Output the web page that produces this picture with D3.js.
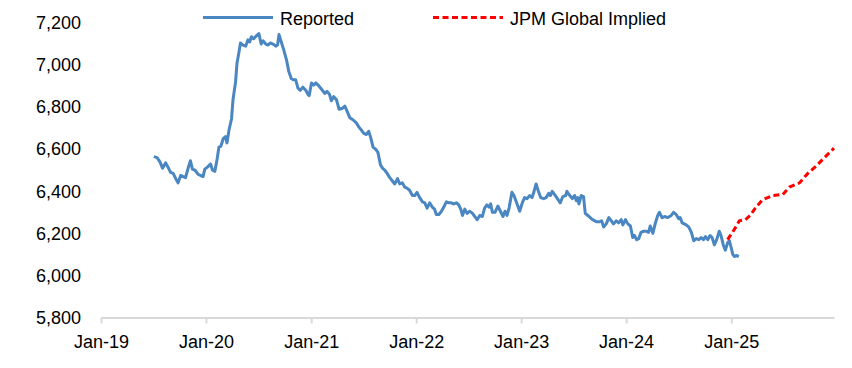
<!DOCTYPE html>
<html>
<head>
<meta charset="utf-8">
<script src="https://cdn.jsdelivr.net/npm/d3@7"></script>
<style>
  body { margin: 0; background: #fff; }
  #chart { width: 852px; height: 368px; }
  text { font-family: Arial, "Liberation Sans", sans-serif; fill: #000; }
</style>
</head>
<body>
<div id="chart"></div>
<script>
// reported series (weekly-ish)
var reportedDates = [
  "2019-07-04","2019-07-15","2019-07-25","2019-08-03","2019-08-14","2019-08-22","2019-08-31","2019-09-09",
  "2019-09-18","2019-09-26","2019-10-05","2019-10-14","2019-10-22","2019-10-31","2019-11-08","2019-11-15",
  "2019-11-24","2019-12-05","2019-12-13","2019-12-22","2019-12-28","2020-01-06","2020-01-17","2020-01-24",
  "2020-02-01","2020-02-09","2020-02-15","2020-02-22","2020-03-01","2020-03-09","2020-03-14","2020-03-21",
  "2020-03-30","2020-04-04","2020-04-13","2020-04-18","2020-04-24","2020-04-30","2020-05-09","2020-05-18",
  "2020-05-26","2020-06-01","2020-06-07","2020-06-15","2020-06-25","2020-07-03","2020-07-11","2020-07-18",
  "2020-07-27","2020-08-03","2020-08-12","2020-08-21","2020-08-31","2020-09-06","2020-09-11","2020-09-20",
  "2020-09-28","2020-10-07","2020-10-15","2020-10-24","2020-11-01","2020-11-08","2020-11-16","2020-11-24",
  "2020-12-03","2020-12-13","2020-12-21","2020-12-25","2021-01-02","2021-01-10","2021-01-17","2021-01-25",
  "2021-02-06","2021-02-17","2021-02-25","2021-03-06","2021-03-12","2021-03-20","2021-03-30","2021-04-08",
  "2021-04-20","2021-04-28","2021-05-06","2021-05-15","2021-05-26","2021-06-07","2021-06-16","2021-06-25",
  "2021-07-03","2021-07-12","2021-07-20","2021-07-27","2021-08-04","2021-08-13","2021-08-21","2021-08-30",
  "2021-09-06","2021-09-14","2021-09-22","2021-10-01","2021-10-10","2021-10-18","2021-10-28","2021-11-05",
  "2021-11-14","2021-11-22","2021-11-30","2021-12-09","2021-12-19","2021-12-27","2022-01-04","2022-01-13",
  "2022-01-23","2022-01-31","2022-02-08","2022-02-17","2022-02-26","2022-03-06","2022-03-12","2022-03-21",
  "2022-03-30","2022-04-07","2022-04-16","2022-04-25","2022-05-03","2022-05-11","2022-05-21","2022-05-29",
  "2022-06-05","2022-06-11","2022-06-19","2022-06-27","2022-07-06","2022-07-16","2022-07-24","2022-08-01",
  "2022-08-10","2022-08-19","2022-08-27","2022-09-04","2022-09-11","2022-09-17","2022-09-23","2022-10-02",
  "2022-10-12","2022-10-21","2022-10-30","2022-11-06","2022-11-13","2022-11-20","2022-11-30","2022-12-07",
  "2022-12-15","2022-12-27","2023-01-05","2023-01-13","2023-01-21","2023-01-31","2023-02-08","2023-02-14",
  "2023-02-22","2023-03-02","2023-03-10","2023-03-20","2023-03-29","2023-04-07","2023-04-13","2023-04-19",
  "2023-04-27","2023-05-07","2023-05-17","2023-05-26","2023-06-05","2023-06-09","2023-06-19","2023-06-28",
  "2023-07-06","2023-07-12","2023-07-17","2023-07-21","2023-07-29","2023-08-06","2023-08-12","2023-08-21",
  "2023-09-02","2023-09-13","2023-09-21","2023-10-01","2023-10-08","2023-10-15","2023-10-24","2023-11-02",
  "2023-11-10","2023-11-18","2023-11-28","2023-12-06","2023-12-15","2023-12-21","2023-12-30","2024-01-07",
  "2024-01-16","2024-01-24","2024-01-30","2024-02-07","2024-02-14","2024-02-22","2024-03-02","2024-03-11",
  "2024-03-19","2024-03-25","2024-04-03","2024-04-12","2024-04-20","2024-04-26","2024-05-05","2024-05-14",
  "2024-05-25","2024-06-06","2024-06-14","2024-06-23","2024-07-02","2024-07-07","2024-07-14","2024-07-28",
  "2024-08-06","2024-08-15","2024-08-23","2024-09-01","2024-09-10","2024-09-18","2024-09-26","2024-10-03",
  "2024-10-11","2024-10-19","2024-10-26","2024-11-03","2024-11-11","2024-11-20","2024-11-26","2024-12-04",
  "2024-12-11","2024-12-19","2024-12-25","2024-12-31","2025-01-06","2025-01-12","2025-01-18","2025-01-27"
];
var reportedValues = [
  6565,6560,6540,6510,6535,6515,6490,6485,
  6460,6440,6475,6470,6465,6510,6545,6505,
  6500,6480,6475,6470,6505,6515,6530,6500,
  6495,6555,6610,6615,6650,6660,6630,6690,
  6745,6835,6920,7010,7055,7105,7095,7090,
  7120,7110,7135,7125,7140,7150,7100,7115,
  7100,7095,7105,7100,7090,7095,7145,7105,
  7070,7025,6970,6935,6930,6930,6890,6880,
  6895,6880,6860,6855,6915,6905,6915,6905,
  6885,6865,6875,6860,6830,6850,6835,6790,
  6795,6805,6780,6750,6740,6725,6705,6690,
  6675,6670,6685,6655,6610,6600,6585,6525,
  6510,6500,6485,6465,6450,6435,6460,6435,
  6440,6420,6415,6405,6380,6380,6395,6370,
  6350,6345,6320,6345,6325,6315,6290,6290,
  6305,6325,6350,6345,6345,6340,6345,6335,
  6315,6285,6315,6295,6305,6295,6280,6265,
  6285,6280,6320,6335,6325,6340,6300,6300,
  6330,6305,6280,6305,6285,6320,6395,6380,
  6350,6305,6345,6370,6365,6380,6370,6395,
  6435,6400,6370,6365,6370,6390,6380,6400,
  6385,6365,6345,6375,6380,6400,6380,6365,
  6380,6355,6370,6340,6380,6375,6295,6285,
  6270,6260,6255,6255,6260,6230,6245,6275,
  6260,6245,6260,6250,6265,6240,6265,6245,
  6235,6180,6190,6170,6175,6205,6210,6210,
  6205,6235,6200,6250,6285,6300,6275,6280,
  6275,6285,6300,6290,6270,6275,6250,6240,
  6230,6205,6165,6175,6170,6180,6170,6185,
  6170,6190,6180,6145,6170,6210,6190,6145,
  6120,6155,6165,6135,6100,6090,6095,6090
];

// JPM global implied path
var impliedDates = [
  "2024-12-19","2025-01-12","2025-01-29","2025-02-19","2025-03-07","2025-03-28","2025-04-20","2025-05-25",
  "2025-06-29","2025-07-22","2025-08-26","2025-09-24","2025-10-23","2025-11-21","2025-12-24"
];
var impliedValues = [6170,6220,6260,6265,6285,6325,6360,6380,6385,6420,6440,6485,6520,6560,6605];

var yTicks = [5800,6000,6200,6400,6600,6800,7000,7200];
var xTickYears = ["2019","2020","2021","2022","2023","2024","2025"];
var seriesNames = ["Reported","JPM Global Implied"];

var parseDate = d3.timeParse("%Y-%m-%d");
var blue = "#4a86c1";
var red = "#ff0000";

var width = 852, height = 368;
var svg = d3.select("#chart")
  .append("svg")
    .attr("width", width)
    .attr("height", height);

// scales
var x = d3.scaleTime()
  .domain([parseDate("2019-01-01"), parseDate("2025-12-24")])
  .range([101, 834]);
var y = d3.scaleLinear()
  .domain([5800, 7200])
  .range([317.5, 23]);

// y axis, labels only
var yAxis = svg.append("g")
  .attr("transform", "translate(90,0)")
  .call(d3.axisLeft(y).tickValues(yTicks).tickSize(0).tickPadding(9).tickFormat(d3.format(",")));
yAxis.select(".domain").remove();
yAxis.selectAll("text").style("font-size", "18px").style("font-family", "Arial, 'Liberation Sans', sans-serif");

// x axis
var xAxis = svg.append("g")
  .attr("transform", "translate(0,317.5)")
  .call(d3.axisBottom(x)
    .tickValues(xTickYears.map(function(yr) { return parseDate(yr + "-01-01"); }))
    .tickSizeInner(6).tickSizeOuter(0).tickPadding(12)
    .tickFormat(d3.timeFormat("%b-%y")));
xAxis.select(".domain").attr("stroke", "#d9d9d9").attr("stroke-width", 2);
xAxis.selectAll(".tick line").attr("stroke", "#d9d9d9").attr("stroke-width", 2);
xAxis.selectAll("text").style("font-size", "18px").style("font-family", "Arial, 'Liberation Sans', sans-serif");

var line = d3.line()
  .x(function(d) { return x(d.date); })
  .y(function(d) { return y(d.value); });

var reported = reportedDates.map(function(d, i) { return { date: parseDate(d), value: reportedValues[i] }; });
var implied = impliedDates.map(function(d, i) { return { date: parseDate(d), value: impliedValues[i] }; });

// reported line
svg.append("path")
  .datum(reported)
  .attr("fill", "none")
  .attr("stroke", blue)
  .attr("stroke-width", 3)
  .attr("stroke-linejoin", "round")
  .attr("d", line);

// implied line (dashed)
svg.append("path")
  .datum(implied)
  .attr("fill", "none")
  .attr("stroke", red)
  .attr("stroke-width", 3)
  .attr("stroke-dasharray", "6,3.5")
  .attr("d", line);

// legend
var legend = svg.append("g");
var legendItems = [
  { name: seriesNames[0], color: blue, dash: null, x0: 203 },
  { name: seriesNames[1], color: red, dash: "6,3.5", x0: 433 }
];
legendItems.forEach(function(it) {
  legend.append("line")
    .attr("x1", it.x0).attr("x2", it.x0 + 70)
    .attr("y1", 17.5).attr("y2", 17.5)
    .attr("stroke", it.color)
    .attr("stroke-width", 3)
    .attr("stroke-dasharray", it.dash);
  legend.append("text")
    .attr("x", it.x0 + 77)
    .attr("y", 25)
    .style("font-size", "18px")
    .text(it.name);
});
</script>
</body>
</html>
